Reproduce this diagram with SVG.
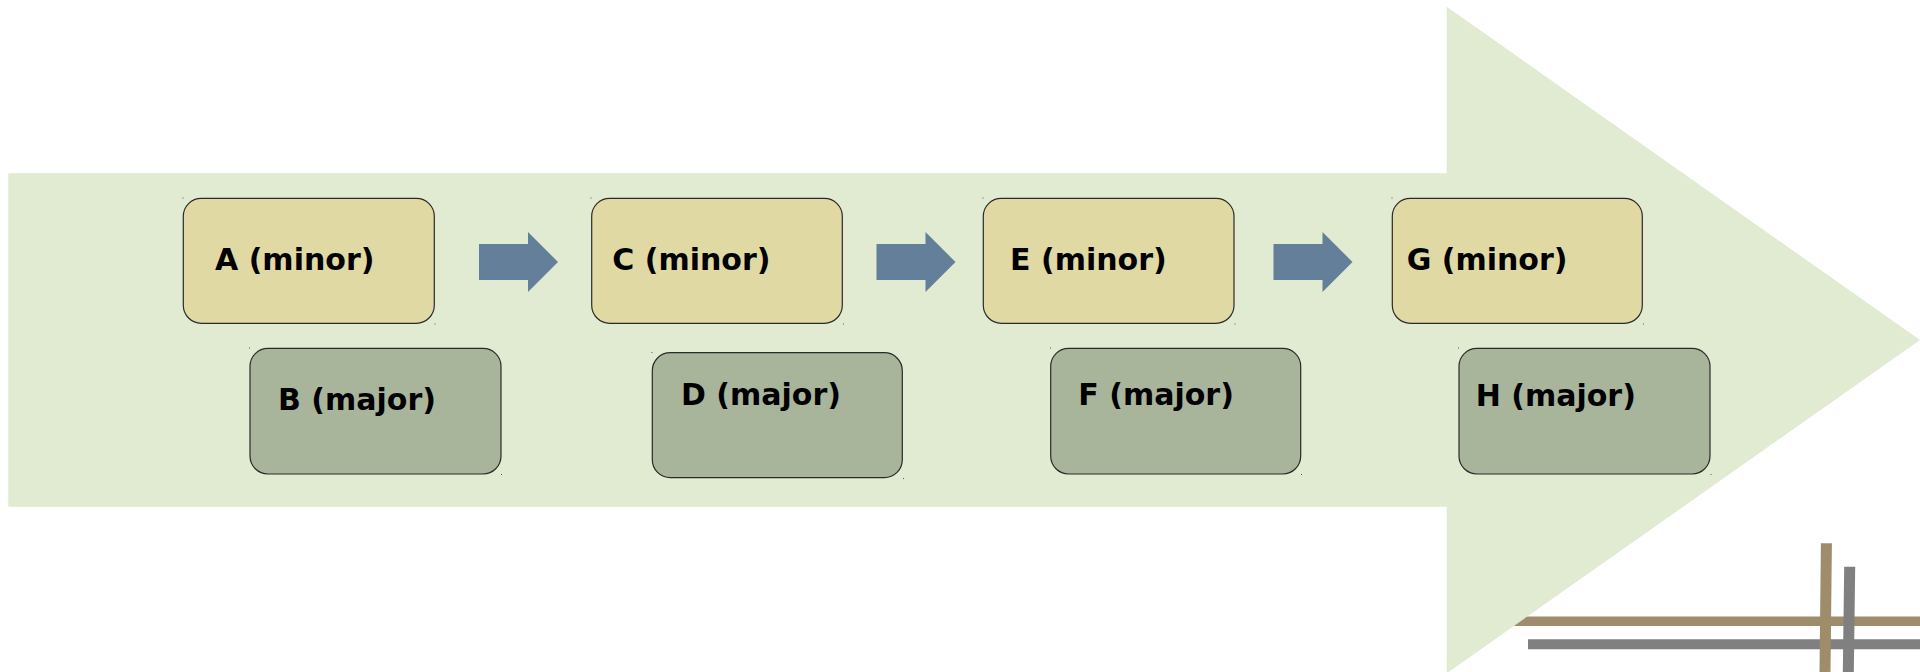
<svg xmlns="http://www.w3.org/2000/svg" width="1920" height="672" viewBox="0 0 1920 672">
<style>
.minor{fill:#e0d9a4;stroke:#2a2a2a;stroke-width:1.2}
.major{fill:#a9b59b;stroke:#2a2a2a;stroke-width:1.2}
.lbl{font-family:"DejaVu Sans","Liberation Sans",sans-serif;font-weight:bold;font-size:30px;fill:#000}
.dot{fill:#555}
.step{fill:#647f9a}
</style>
<defs>
<path id="step" d="M0,0 H49 V-12 L79,18 L49,48 V36 H0 Z"/>
</defs>
<rect width="1920" height="672" fill="#ffffff"/>
<g id="deco-back">
<line x1="1490" y1="621.3" x2="1920" y2="621.3" stroke="#9e8c6b" stroke-width="9.5"/>
</g>
<g id="big-arrow">
<polygon points="8.3,173.3 1446.7,173.3 1446.7,6.7 1920,340 1446.7,673.3 1446.7,506.7 8.3,506.7" fill="#e0ebd1"/>
</g>
<g id="deco-front">
<line x1="1528" y1="644.3" x2="1920" y2="644.3" stroke="#808080" stroke-width="10"/>
<line x1="1826.4" y1="543.3" x2="1825" y2="672" stroke="#9e8c6b" stroke-width="11"/>
<line x1="1849.7" y1="566.7" x2="1848.3" y2="672" stroke="#808080" stroke-width="11"/>
</g>
<g id="connectors">
<use href="#step" class="step" x="479" y="244"/>
<use href="#step" class="step" x="876.5" y="244"/>
<use href="#step" class="step" x="1273.5" y="244"/>
</g>
<g id="A">
<rect class="minor" x="183.3" y="198.3" width="251" height="125" rx="18"/>
<rect class="dot" x="182.5" y="197.5" width="1" height="1"/><rect class="dot" x="434.5" y="323.5" width="1" height="1"/>
<text class="lbl" x="215" y="270">A (minor)</text>
</g>
<g id="B">
<rect class="major" x="250" y="348.3" width="251" height="125.7" rx="18"/>
<rect class="dot" x="249" y="347.5" width="1" height="1"/><rect class="dot" x="501" y="474" width="1" height="1"/>
<text class="lbl" x="278" y="410">B (major)</text>
</g>
<g id="C">
<rect class="minor" x="591.7" y="198.3" width="250.6" height="125" rx="18"/>
<rect class="dot" x="590.5" y="197.5" width="1" height="1"/><rect class="dot" x="843" y="323.5" width="1" height="1"/>
<text class="lbl" x="612.3" y="270">C (minor)</text>
</g>
<g id="D">
<rect class="major" x="652.3" y="352.7" width="250" height="125" rx="18"/>
<rect class="dot" x="651.5" y="352" width="1" height="1"/><rect class="dot" x="903" y="478" width="1" height="1"/>
<text class="lbl" x="681" y="405.3">D (major)</text>
</g>
<g id="E">
<rect class="minor" x="983.3" y="198.3" width="250.7" height="125" rx="18"/>
<rect class="dot" x="982.5" y="197.5" width="1" height="1"/><rect class="dot" x="1234.5" y="323.5" width="1" height="1"/>
<text class="lbl" x="1010" y="270">E (minor)</text>
</g>
<g id="F">
<rect class="major" x="1050.7" y="348.3" width="250" height="125.7" rx="18"/>
<rect class="dot" x="1050" y="347.5" width="1" height="1"/><rect class="dot" x="1301" y="474" width="1" height="1"/>
<text class="lbl" x="1078.3" y="405.3">F (major)</text>
</g>
<g id="G">
<rect class="minor" x="1392.3" y="198.3" width="250" height="125" rx="18"/>
<rect class="dot" x="1391.5" y="197.5" width="1" height="1"/><rect class="dot" x="1643" y="323.5" width="1" height="1"/>
<text class="lbl" x="1406.7" y="270">G (minor)</text>
</g>
<g id="H">
<rect class="major" x="1459" y="348.3" width="251" height="125.7" rx="18"/>
<rect class="dot" x="1458" y="347.5" width="1" height="1"/><rect class="dot" x="1710.5" y="474" width="1" height="1"/>
<text class="lbl" x="1475.7" y="406">H (major)</text>
</g>
</svg>
